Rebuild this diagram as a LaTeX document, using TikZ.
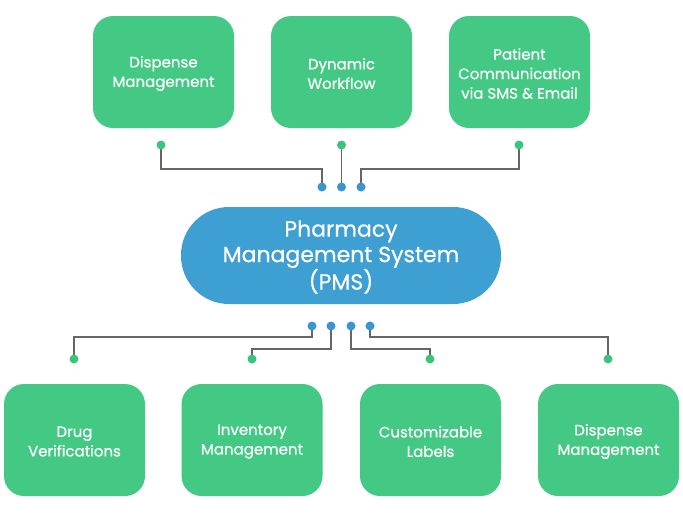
\documentclass[tikz,border=0pt]{standalone}
\usepackage{fontspec}
\setmainfont{Poppins}[FakeBold=0.6]
\definecolor{boxgreen}{HTML}{44C985}
\definecolor{pillblue}{HTML}{3E9FD2}
\definecolor{dotgreen}{HTML}{3DC47C}
\definecolor{dotblue}{HTML}{3A96D0}
\definecolor{linegray}{HTML}{666666}
\tikzset{
  featbox/.style={rectangle, rounded corners=20pt, fill=boxgreen, minimum width=141pt, minimum height=112pt, inner sep=0pt},
  feattext/.style={text=white, align=center, font=\fontsize{15}{19.5}\selectfont, inner sep=0pt},
  pill/.style={rectangle, rounded corners=48pt, fill=pillblue, minimum width=320pt, minimum height=97pt, inner sep=0pt},
  pilltext/.style={text=white, align=center, font=\fontsize{22}{25.5}\selectfont, inner sep=0pt},
  gdot/.style={circle, fill=dotgreen, minimum size=9pt, inner sep=0pt},
  bdot/.style={circle, fill=dotblue, minimum size=9pt, inner sep=0pt},
  conn/.style={draw=linegray, line width=1.8pt}
}
\begin{document}
\begin{tikzpicture}[x=1pt,y=-1pt]
\useasboundingbox (0,0) rectangle (683,512);
% boxes
\node[featbox] (t1) at (163.5,72) {};
\node[featbox] (t2) at (341.5,72) {};
\node[featbox] (t3) at (519.5,72) {};
\node[pill] (pms) at (341,255.5) {};
\node[featbox] (u1) at (74.5,440) {};
\node[featbox] (u2) at (252,440) {};
\node[featbox] (u3) at (430.5,440) {};
\node[featbox] (u4) at (608.5,440) {};
% texts
\node[feattext] (t1txt) at ([yshift=-1.5pt]t1.center) {Dispense\\Management};
\node[feattext] (t2txt) at ([yshift=-1.5pt]t2.center) {Dynamic\\Workflow};
\node[feattext] (t3txt) at ([yshift=-1.5pt]t3.center) {Patient\\Communication\\via SMS \& Email};
\node[pilltext] (pmstxt) at ([yshift=-1.5pt]pms.center) {Pharmacy\\Management System\\(PMS)};
\node[feattext] (u1txt) at ([yshift=-1.5pt]u1.center) {Drug\\Verifications};
\node[feattext] (u2txt) at ([yshift=-1.5pt]u2.center) {Inventory\\Management};
\node[feattext] (u3txt) at ([yshift=-1.5pt]u3.center) {Customizable\\Labels};
\node[feattext] (u4txt) at ([yshift=-1.5pt]u4.center) {Dispense\\Management};
% dot positions
\coordinate (tg1) at (161,145);
\coordinate (tg2) at (341.5,145);
\coordinate (tg3) at (519,145);
\coordinate (tb1) at (322,187);
\coordinate (tb2) at (341.5,187);
\coordinate (tb3) at (361,187);
\coordinate (bb1) at (312,326);
\coordinate (bb2) at (331,326);
\coordinate (bb3) at (351,326);
\coordinate (bb4) at (370,326);
\coordinate (bg1) at (74,359);
\coordinate (bg2) at (252,359);
\coordinate (bg3) at (430,359);
\coordinate (bg4) at (608,359);
% connectors
\coordinate (k1) at (161,169);
\coordinate (k3) at (519,169);
\draw[conn] (tg1) -- (k1) -| (tb1);
\draw[conn] (tg2) -- (tb2);
\draw[conn] (tg3) -- (k3) -| (tb3);
\coordinate (m1) at (312,337);
\coordinate (m2) at (331,349);
\coordinate (m3) at (351,349);
\coordinate (m4) at (370,337);
\draw[conn] (bb1) -- (m1) -| (bg1);
\draw[conn] (bb2) -- (m2) -| (bg2);
\draw[conn] (bb3) -- (m3) -| (bg3);
\draw[conn] (bb4) -- (m4) -| (bg4);
% dots
\foreach \n in {tg1,tg2,tg3,bg1,bg2,bg3,bg4} \node[gdot] (d\n) at (\n) {};
\foreach \n in {tb1,tb2,tb3,bb1,bb2,bb3,bb4} \node[bdot] (d\n) at (\n) {};
\end{tikzpicture}
\end{document}
